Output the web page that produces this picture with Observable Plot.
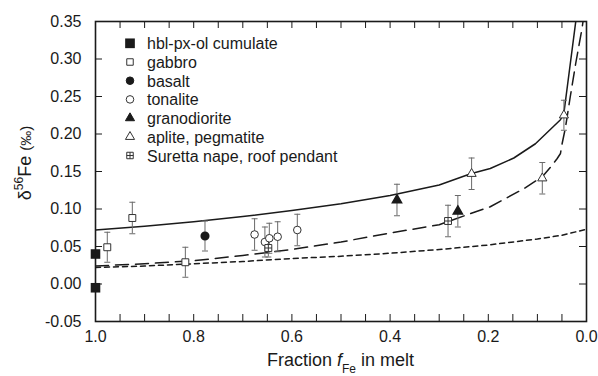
<!DOCTYPE html>
<html><head><meta charset="utf-8">
<script src="https://cdn.jsdelivr.net/npm/d3@7"></script>
<script src="https://cdn.jsdelivr.net/npm/@observablehq/plot@0.6"></script>
<style>
body{margin:0;background:#fff;}
#chart{position:relative;width:598px;height:376px;}
</style>
</head><body><div id="chart"></div>
<script>
// ---- data (fraction f_Fe in melt, delta56Fe permil, 2sd) ----
const cumulateF = [1.0, 1.0];
const cumulateV = [0.040, -0.005];
const gabbroF = [0.976, 0.925, 0.817];
const gabbroV = [0.049, 0.088, 0.029];
const basaltF = [0.777];
const basaltV = [0.064];
const tonaliteF = [0.676, 0.655, 0.646, 0.629, 0.589];
const tonaliteV = [0.066, 0.056, 0.061, 0.063, 0.072];
const granodioriteF = [0.386, 0.262];
const granodioriteV = [0.112, 0.097];
const apliteF = [0.234, 0.090, 0.046];
const apliteV = [0.147, 0.141, 0.225];
const surettaF = [0.648, 0.282];
const surettaV = [0.048, 0.084];
const errGabbro = [0.020, 0.021, 0.020];
const errBasalt = [0.020];
const errTonalite = [0.021, 0.020, 0.020, 0.020, 0.021];
const errGranodiorite = [0.021, 0.021];
const errAplite = [0.021, 0.021, 0.020];
const errSuretta = [0.012, 0.021];

// model curves
const solidF = [1.0, 0.9, 0.8, 0.7, 0.6, 0.5, 0.4, 0.3, 0.236, 0.196, 0.148, 0.104, 0.053, 0.046, 0.012];
const solidV = [0.072, 0.077, 0.083, 0.090, 0.098, 0.107, 0.118, 0.132, 0.147, 0.154, 0.168, 0.187, 0.219, 0.228, 0.400];
const longDashF = [1.0, 0.9, 0.8, 0.7, 0.6, 0.5, 0.4, 0.3, 0.236, 0.196, 0.128, 0.09, 0.073, 0.060, 0.053, 0.050, 0.043, 0.033, 0.022, 0.009, 0.003];
const longDashV = [0.024, 0.027, 0.031, 0.038, 0.046, 0.056, 0.068, 0.079, 0.094, 0.103, 0.127, 0.143, 0.156, 0.167, 0.174, 0.186, 0.208, 0.250, 0.294, 0.341, 0.370];
const shortDashF = [1.0, 0.9, 0.8, 0.7, 0.6, 0.5, 0.4, 0.3, 0.2, 0.1, 0.05, 0.0];
const shortDashV = [0.022, 0.024, 0.027, 0.030, 0.034, 0.037, 0.041, 0.046, 0.052, 0.060, 0.065, 0.073];

// axes
const xLabels = [1.0, 0.8, 0.6, 0.4, 0.2, 0.0];
const xTickMarks = [0.0, 0.05, 0.1, 0.15, 0.2, 0.25, 0.3, 0.35, 0.4, 0.45, 0.5, 0.55, 0.6, 0.65, 0.7, 0.75, 0.8, 0.85, 0.9, 0.95, 1.0];
const yLabels = [-0.05, 0.0, 0.05, 0.10, 0.15, 0.20, 0.25, 0.30, 0.35];
const legendLabels = ["hbl-px-ol cumulate", "gabbro", "basalt", "tonalite", "granodiorite", "aplite, pegmatite", "Suretta nape, roof pendant"];

// ---- build tables ----
const zipPts = (F, V, E) => F.map((f, i) => ({f, v: V[i], e: E ? E[i] : 0}));
const cumulate = zipPts(cumulateF, cumulateV);
const gabbro = zipPts(gabbroF, gabbroV, errGabbro);
const basalt = zipPts(basaltF, basaltV, errBasalt);
const tonalite = zipPts(tonaliteF, tonaliteV, errTonalite);
const granodiorite = zipPts(granodioriteF, granodioriteV, errGranodiorite);
const aplite = zipPts(apliteF, apliteV, errAplite);
const suretta = zipPts(surettaF, surettaV, errSuretta);
const withErr = [...gabbro, ...basalt, ...tonalite, ...granodiorite, ...aplite, ...suretta];
const curve = (F, V) => F.map((f, i) => ({f, v: V[i]}));

// custom symbols
const capSym = {draw(ctx) { ctx.moveTo(-3, 0); ctx.lineTo(3, 0); }};
const sqCross = {draw(ctx, size) {
  const s = Math.sqrt(size) / 2;
  ctx.moveTo(-s, -s); ctx.lineTo(s, -s); ctx.lineTo(s, s); ctx.lineTo(-s, s); ctx.closePath();
  ctx.moveTo(0, -s); ctx.lineTo(0, s); ctx.moveTo(-s, 0); ctx.lineTo(s, 0);
}};

const W = 598, H = 376, mL = 95, mR = 12, mT = 21, mB = 55;
const iw = W - mL - mR, ih = H - mT - mB;
const tk = 7;
const ink = "#1a1a1a";
const font = "'Liberation Sans', Arial, sans-serif";

const chart = Plot.plot({
  width: W, height: H,
  marginLeft: mL, marginRight: mR, marginTop: mT, marginBottom: mB,
  style: {fontFamily: font, fontSize: "16px", color: ink, background: "#fff"},
  x: {domain: [1, 0], ticks: xLabels, tickSize: 0, tickPadding: 9, tickFormat: d => d.toFixed(1), label: null},
  y: {domain: [-0.05, 0.35], ticks: yLabels, tickSize: 0, tickPadding: 14, tickFormat: d => d.toFixed(2), label: null},
  marks: [
    // inward ticks
    Plot.ruleX(xTickMarks, {x: d => d, insetTop: ih - tk, stroke: ink, strokeWidth: 1}),
    Plot.ruleX(xTickMarks, {x: d => d, insetBottom: ih - tk, stroke: ink, strokeWidth: 1}),
    Plot.ruleY(yLabels, {y: d => d, insetRight: iw - tk, stroke: ink, strokeWidth: 1}),
    Plot.ruleY(yLabels, {y: d => d, insetLeft: iw - tk, stroke: ink, strokeWidth: 1}),
    // model curves
    Plot.line(curve(shortDashF, shortDashV), {x: "f", y: "v", stroke: ink, strokeWidth: 1.5, strokeDasharray: "5,4", clip: true}),
    Plot.line(curve(longDashF, longDashV), {x: "f", y: "v", stroke: ink, strokeWidth: 1.5, strokeDasharray: "13,7", clip: true}),
    Plot.line(curve(solidF, solidV), {x: "f", y: "v", stroke: ink, strokeWidth: 1.5, clip: true}),
    // error bars
    Plot.ruleX(withErr, {x: "f", y1: d => d.v - d.e, y2: d => d.v + d.e, stroke: "#6a6a6a", strokeWidth: 1}),
    Plot.dot(withErr, {x: "f", y: d => d.v + d.e, symbol: capSym, stroke: "#6a6a6a", fill: "none", strokeWidth: 1}),
    Plot.dot(withErr, {x: "f", y: d => d.v - d.e, symbol: capSym, stroke: "#6a6a6a", fill: "none", strokeWidth: 1}),
    // samples
    Plot.dot(gabbro, {x: "f", y: "v", symbol: "square", r: 3.9, fill: "#fff", stroke: "#333", strokeWidth: 1}),
    Plot.dot(basalt, {x: "f", y: "v", symbol: "circle", r: 3.8, fill: ink, stroke: ink}),
    Plot.dot(tonalite, {x: "f", y: "v", symbol: "circle", r: 3.8, fill: "#fff", stroke: "#333", strokeWidth: 1}),
    Plot.dot(granodiorite, {x: "f", y: "v", symbol: "triangle", r: 3.4, fill: ink, stroke: ink}),
    Plot.dot(aplite, {x: "f", y: "v", symbol: "triangle", r: 3.4, fill: "#fff", stroke: "#333", strokeWidth: 1}),
    Plot.dot(suretta, {x: "f", y: "v", symbol: sqCross, r: 3.9, fill: "#fff", stroke: "#333", strokeWidth: 1}),
    Plot.frame({stroke: ink, strokeWidth: 1.6}),
    Plot.dot(cumulate, {x: "f", y: "v", symbol: "square", r: 5.4, fill: ink, stroke: "none"})
  ]
});

document.getElementById("chart").appendChild(chart);
const svg = d3.select(chart);

// legend
const lg = svg.append("g").attr("font-family", font).attr("font-size", 16).attr("fill", ink).attr("text-anchor", "start");
const legendSyms = [
  {t: d3.symbolSquare, s: 94, fill: ink, stroke: "none"},
  {t: d3.symbolSquare, s: 42, fill: "#fff", stroke: "#333"},
  {t: d3.symbolCircle, s: 45, fill: ink, stroke: ink},
  {t: d3.symbolCircle, s: 45, fill: "#fff", stroke: "#333"},
  {t: d3.symbolTriangle, s: 36, fill: ink, stroke: ink},
  {t: d3.symbolTriangle, s: 36, fill: "#fff", stroke: "#333"},
  {t: sqCross, s: 42, fill: "#fff", stroke: "#333"}
];
legendLabels.forEach((label, i) => {
  const y = 43.3 + i * 18.7;
  lg.append("path").attr("transform", `translate(130,${y})`)
    .attr("d", d3.symbol(legendSyms[i].t, legendSyms[i].s)())
    .attr("fill", legendSyms[i].fill).attr("stroke", legendSyms[i].stroke).attr("stroke-width", 1);
  lg.append("text").attr("x", 147).attr("y", y + 6).attr("text-anchor", "start").text(label);
});

// axis titles
const xt = svg.append("text").attr("x", mL + iw / 2).attr("y", 366).attr("text-anchor", "middle")
  .attr("font-family", font).attr("font-size", 18).attr("fill", ink);
xt.append("tspan").text("Fraction ");
xt.append("tspan").attr("font-style", "italic").text("f");
xt.append("tspan").attr("font-size", 12).attr("dy", 7).text("Fe");
xt.append("tspan").attr("dy", -7).text(" in melt");

const yt = svg.append("text").attr("transform", `translate(31,${mT + ih / 2 - 8}) rotate(-90)`).attr("text-anchor", "middle")
  .attr("font-family", font).attr("font-size", 18).attr("fill", ink);
yt.append("tspan").text("δ");
yt.append("tspan").attr("font-size", 12).attr("dy", -8).text("56");
yt.append("tspan").attr("dy", 8).text("Fe ");
yt.append("tspan").attr("font-size", 15).text("(‰)");
</script>
</body></html>
